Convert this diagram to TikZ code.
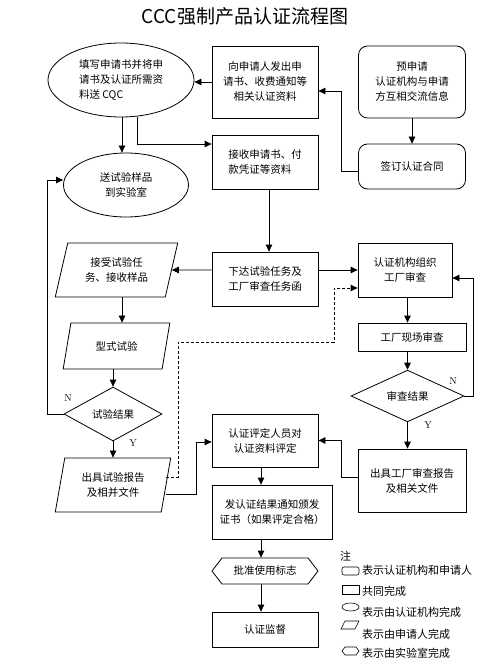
\documentclass[tikz,border=0pt]{standalone}
\usepackage{fontspec}
\newfontfamily\cjk{Noto Sans CJK SC}
\usepackage{tikz}
\usetikzlibrary{arrows.meta}
\usetikzlibrary{shapes.geometric,shapes.symbols}
\tikzset{
    flowbox/.style={
        draw,
        line width=0.8pt,
        font=\cjk\fontsize{10.5}{15}\selectfont,
        align=center,
        inner sep=0pt
    },
    rectbox/.style={flowbox,rectangle},
    roundbox/.style={flowbox,rectangle,rounded corners=9pt},
    ovalbox/.style={flowbox,ellipse},
    slantbox/.style={
        flowbox,
        trapezium,
        trapezium stretches=true,
        trapezium left angle=72,
        trapezium right angle=108
    },
    judgebox/.style={flowbox,diamond},
    flagbox/.style={flowbox,signal,signal to=west and east,signal pointer angle=105},
    % 黑色实线箭头
    blackarrow/.style={
        line width=0.8pt,
        black,
        -{Triangle[length=7pt,width=6.5pt]}
    },
    % 虚线箭头
    dasharrow/.style={
        blackarrow,
        dash pattern=on 3pt off 2pt
    },
    yntext/.style={font=\fontsize{10}{12}\selectfont,inner sep=0pt},
    notetext/.style={font=\cjk\fontsize{11}{13}\selectfont,anchor=west,inner sep=0pt}
}

\begin{document}
\begin{tikzpicture}[x=1pt,y=-1pt]
	\useasboundingbox (0,0) rectangle (501,668);
	
	% 标题
	\node[font=\cjk\fontsize{19}{22}\selectfont] (title) at (245,16) {CCC强制产品认证流程图};
	
	% 申请阶段
	\node[ovalbox,align=left,minimum width=146,minimum height=74] (apply) at (121,80) {填写申请书并将申\\请书及认证所需资\\料送 CQC};
	\node[rectbox,minimum width=106,minimum height=72] (issue) at (265,82) {向申请人发出申\\请书、收费通知等\\相关认证资料};
	\node[roundbox,minimum width=107,minimum height=72] (pre) at (412,82) {预申请\\认证机构与申请\\方互相交流信息};
	\node[roundbox,minimum width=107,minimum height=45] (sign) at (412,166.5) {签订认证合同};
	\node[rectbox,align=left,minimum width=106,minimum height=54] (recv) at (265,162) {接收申请书、付\\款凭证等资料};
	\node[ovalbox,minimum width=125,minimum height=64] (sample) at (126,185) {送试验样品\\到实验室};
	
	% 试验与审查
	\node[slantbox,minimum width=123,minimum height=54] (accept) at (116.5,270) {接受试验任\\务、接收样品};
	\node[rectbox,align=left,minimum width=106,minimum height=54] (task) at (265,279) {下达试验任务及\\工厂审查任务函};
	\node[rectbox,minimum width=94,minimum height=54] (org) at (405,270) {认证机构组织\\工厂审查};
	\node[slantbox,trapezium left angle=70,trapezium right angle=110,minimum width=107,minimum height=46] (type) at (116.5,346) {型式试验};
	\node[judgebox,minimum width=98,minimum height=54] (result) at (113,414) {试验结果};
	\node[slantbox,trapezium left angle=76,trapezium right angle=104,minimum width=116,minimum height=54] (report) at (113,485) {出具试验报告\\及相并文件};
	\node[rectbox,minimum width=108,minimum height=28] (site) at (412,337) {工厂现场审查};
	\node[judgebox,minimum width=113,minimum height=36] (audit) at (407.5,396) {审查结果};
	\node[rectbox,minimum width=108,minimum height=63] (freport) at (412,480.5) {出具工厂审查报告\\及相关文件};
	
	% 评定与发证
	\node[rectbox,minimum width=106,minimum height=53] (eval) at (265,440.5) {认证评定人员对\\认证资料评定};
	\node[rectbox,minimum width=120,minimum height=54] (cert) at (272,512) {发认证结果通知颁发\\证书（如果评定合格）};
	\node[flagbox,minimum width=106,minimum height=26] (mark) at (265,571) {批准使用标志};
	\node[rectbox,minimum width=106,minimum height=35] (super) at (265,629.5) {认证监督};
	
	% 竖线位置
	\coordinate (lx) at (122,0);
	\coordinate (rx) at (137,0);
	\coordinate (tx) at (269,0);
	\coordinate (mx) at (261,0);
	
	% 箭头
	\draw[blackarrow] (issue.west) -- (issue.west -| apply.east);
	\draw[blackarrow] (pre.south) -- (sign.north);
	\draw[blackarrow] ([yshift=-5pt]sign.west) -- ++(-17,0) |- ([yshift=-9pt]issue.east);
	\draw[blackarrow] (apply.south -| lx) -- (sample.north -| lx);
	\draw[blackarrow] (apply.south -| rx) |- ([yshift=18pt]recv.west);
	\draw[blackarrow] (recv.south -| tx) -- (task.north -| tx);
	\draw[blackarrow] ([yshift=9pt]task.west) -- (accept.east);
	\draw[blackarrow] ([yshift=9pt]task.east) -- (org.west);
	\draw[blackarrow] (accept.south -| lx) -- (type.north -| lx);
	\draw[blackarrow] (type.south -| result.north) -- (result.north);
	\draw[blackarrow] (result.west) -- ++(-16,0) |- ([yshift=5pt]sample.west);
	\draw[blackarrow] (result.south) -- (report.north -| result.south);
	\draw[blackarrow] ([yshift=-9pt]report.east) -- ++(30,0) |- ([yshift=-1.5pt]eval.west);
	\draw[dasharrow] ([yshift=8pt]report.east) -| (178,342) -| (334,288) -- ([yshift=-18pt]org.west);
	\draw[blackarrow] (org.south -| audit.north) -- (site.north -| audit.north);
	\draw[blackarrow] (site.south -| audit.north) -- (audit.north);
	\draw[blackarrow] (audit.south) -- (freport.north -| audit.south);
	\draw[blackarrow] (audit.east) -- ++(9,0) |- ([yshift=-8pt]org.east);
	\draw[blackarrow] ([yshift=3.5pt]freport.west) -- ++(-16,0) |- (eval.east);
	\draw[blackarrow] (eval.south -| mx) -- (cert.north -| mx);
	\draw[blackarrow] (cert.south -| mx) -- (mark.north -| mx);
	\draw[blackarrow] (mark.south -| mx) -- (super.north -| mx);
	
	% 文字标注
	\node[yntext] (n1) at (68,398) {N};
	\node[yntext] (y1) at (133,443) {Y};
	\node[yntext] (n2) at (453,381) {N};
	\node[yntext] (y2) at (428,425) {Y};
	
	% 注
	\node[notetext] (note) at (340,556) {注};
	\draw[line width=0.6pt,rounded corners=2pt] (342,567) rectangle (359,575);
	\node[notetext] (note1) at (362,570) {表示认证机构和申请人};
	\draw[line width=0.6pt] (342,585) rectangle (359,594);
	\node[notetext] (note2) at (362,591) {共同完成};
	\draw[line width=0.6pt] (350.5,607) ellipse (8.5 and 4);
	\node[notetext] (note3) at (362,612) {表示由认证机构完成};
	\draw[line width=0.6pt] (345,621) -- (359,621) -- (355,629) -- (341,629) -- cycle;
	\node[notetext] (note4) at (362,634) {表示由申请人完成};
	\draw[line width=0.6pt] (342,651) -- (345,647) -- (356,647) -- (359,651) -- (356,655) -- (345,655) -- cycle;
	\node[notetext] (note5) at (362,653) {表示由实验室完成};
\end{tikzpicture}
\end{document}
